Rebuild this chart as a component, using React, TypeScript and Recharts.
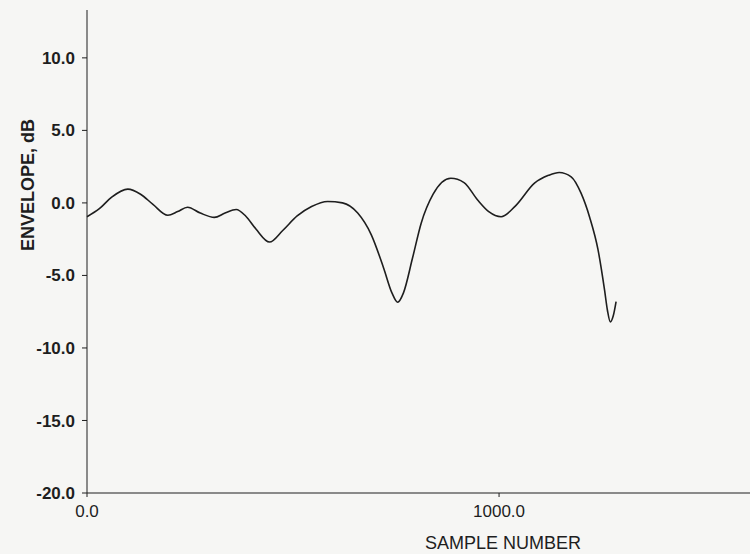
import { LineChart, Line, XAxis, YAxis, Label } from 'recharts'

const samples = [
  0, 30, 60, 99, 130, 160, 196, 220, 244, 275, 309, 335, 362, 385, 410, 443, 475, 510, 545, 584,
  620, 657, 690, 720, 740, 754, 768, 790, 811, 840, 883, 915, 948, 975, 1005, 1040, 1086, 1120,
  1146, 1175, 1199, 1220, 1240, 1256, 1263, 1270, 1277, 1284,
]
const envelope = [
  -0.95, -0.4, 0.4, 0.95, 0.6, -0.1, -0.85, -0.6, -0.3, -0.7, -1.0, -0.7, -0.45, -0.9, -1.8, -2.7,
  -1.9, -0.9, -0.25, 0.1, 0.0, -0.7, -2.2, -4.5, -6.2, -6.85, -6.2, -3.8, -1.4, 0.6, 1.7, 1.4, 0.2,
  -0.6, -0.95, -0.2, 1.36, 1.9, 2.1, 1.8, 0.67, -1.0, -3.2, -6.0, -7.4, -8.2, -7.8, -6.8,
]
const xTicks = [0, 1000]
const yTicks = [-20, -15, -10, -5, 0, 5, 10]

const data = samples.map((s, i) => ({ sample: s, env: envelope[i] }))

const font = '"Liberation Sans", Arial, sans-serif'
const ink = '#1e1e1e'

export default function App() {
  return (
    <div style={{ position: 'absolute', left: 0, top: 0, width: 750, height: 554, background: '#f6f6f4' }}>
      <LineChart width={750} height={554} data={data} margin={{ top: 10, right: 0, bottom: 0, left: 0 }}>
        <XAxis
          dataKey="sample"
          type="number"
          domain={[0, 1609]}
          ticks={xTicks}
          tickFormatter={(v: number) => v.toFixed(1)}
          height={61}
          stroke={ink}
          tickSize={4}
          tick={{ fill: ink, fontFamily: font, fontSize: 17 }}
          tickMargin={8}
        >
          <Label
            content={() => (
              <text x={503} y={549} textAnchor="middle" fill={ink} style={{ fontFamily: font, fontSize: 18 }}>
                SAMPLE NUMBER
              </text>
            )}
          />
        </XAxis>
        <YAxis
          type="number"
          domain={[-20, 13.3]}
          ticks={yTicks}
          tickFormatter={(v: number) => v.toFixed(1)}
          width={87}
          stroke={ink}
          tickSize={5}
          tickMargin={7}
          tick={{ fill: ink, fontFamily: font, fontSize: 17, fontWeight: 'bold' }}
        >
          <Label
            content={() => (
              <text
                x={34}
                y={185}
                transform="rotate(-90 34 185)"
                textAnchor="middle"
                fill={ink}
                style={{ fontFamily: font, fontSize: 18, fontWeight: 'bold' }}
              >
                ENVELOPE, dB
              </text>
            )}
          />
        </YAxis>
        <Line type="monotone" dataKey="env" stroke={ink} strokeWidth={1.6} dot={false} isAnimationActive={false} />
      </LineChart>
    </div>
  )
}
